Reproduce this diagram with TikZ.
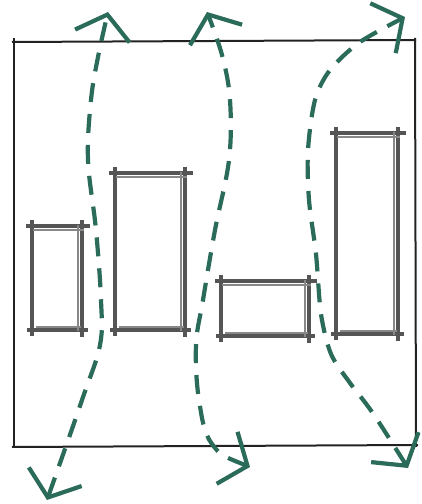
\documentclass[tikz,border=0pt]{standalone}
\usepackage{tikz}
\usetikzlibrary{arrows.meta}
\definecolor{flowc}{HTML}{2B6B5A}
\definecolor{barc}{HTML}{555555}
\definecolor{framec}{HTML}{222222}

\begin{document}
\begin{tikzpicture}[x=1pt,y=1pt,>={Straight Barb[length=22pt,width=56pt]},
  frame/.style={framec,line width=2pt},
  bar/.style={barc,line width=3.6pt},
  barthin/.style={barc!70,line width=1.6pt},
  flow/.style={flowc,line width=4.2pt,dash pattern=on 19pt off 12pt,<->}]
  \useasboundingbox (0,0) rectangle (421,504);
  % outer frame, slightly uneven like a hand sketch
  \draw[frame] (12,462) -- (416,464);
  \draw[frame] (12,57) -- (418,59);
  \draw[frame] (14,466) -- (14,56);
  \draw[frame] (415,466) -- (416,57);
  % bars: corners drawn with overshooting strokes
  \foreach \xa/\ya/\xb/\yb in {32/174/82/278, 115/174/185/331, 221/168/309/223, 336/170/398/371}{
    \draw[bar] ({\xa-6},\yb) -- ({\xb+8},\yb);
    \draw[bar] ({\xa-5},\ya) -- ({\xb+6},\ya);
    \draw[bar] (\xa,{\yb+6}) -- (\xa,{\ya-6});
    \draw[bar] (\xb,{\yb+6}) -- (\xb,{\ya-7});
    \draw[barthin] ({\xa+1},{\yb-4}) -- ({\xb+2},{\yb-4});
    \draw[barthin] ({\xb-4},{\yb+1}) -- ({\xb-4},{\ya-1});
    \draw[barthin] ({\xa+4},{\ya+3}) -- ({\xb-1},{\ya+3});
  }
  % arrow ends
  \coordinate (lbot) at (47,4);
  \coordinate (ltop) at (108,492);
  \coordinate (mbot) at (250,37);
  \coordinate (mtop) at (207,492);
  \coordinate (rbot) at (408,36);
  \coordinate (rtop) at (405,487);
  % dashed flows weaving between the bars
  \draw[flow] plot[smooth,tension=0.6] coordinates
    {(lbot) (82,104) (100,159) (101,204) (96,274) (88,344) (91,404) (98,447) (ltop)};
  \draw[flow] plot[smooth,tension=0.6] coordinates
    {(mbot) (212,60) (199,104) (196,159) (203,204) (215,274) (229,344) (230,404) (222,449) (mtop)};
  \draw[flow] plot[smooth,tension=0.5] coordinates
    {(rbot) (372,92) (350,121) (331,150) (321,190) (316,250) (309,304) (308,354) (315,404) (330,434) (360,462) (rtop)};
\end{tikzpicture}
\end{document}
